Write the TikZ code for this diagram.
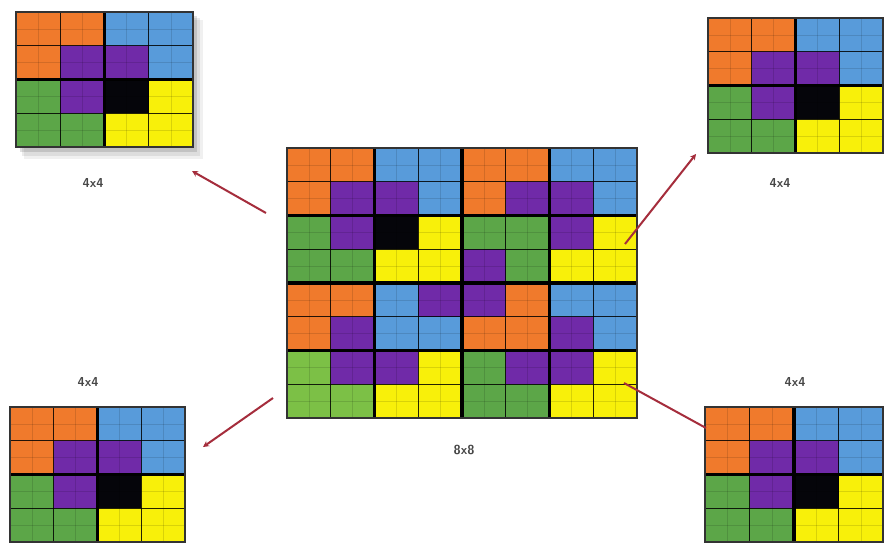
\documentclass[tikz,border=0pt]{standalone}
\usetikzlibrary{arrows.meta}
\definecolor{cO}{RGB}{240,122,44}
\definecolor{cB}{RGB}{88,155,218}
\definecolor{cP}{RGB}{112,42,168}
\definecolor{cG}{RGB}{92,166,72}
\definecolor{cL}{RGB}{124,192,70}
\definecolor{cY}{RGB}{248,240,10}
\definecolor{cK}{RGB}{5,5,10}
\definecolor{arr}{RGB}{165,45,60}
\tikzset{
  subline/.style={black,opacity=0.12,line width=0.5pt},
  cellline/.style={black,opacity=0.85,line width=1.3pt},
  blockline/.style={black,line width=3.6pt},
  outline/.style={black!80,line width=1.6pt},
  lbl/.style={font=\sffamily\bfseries\fontsize{13}{14}\selectfont,text=black!72},
  link/.style={arr,line width=2pt,-{Stealth[length=6pt,width=6pt]}},
}
% #1 x0, #2 y0, #3 cell width, #4 cell height, #5 rows of colours
\newcommand\mycells[5]{%
  \foreach \rowlist [count=\r from 0] in {#5} {
    \foreach \c [count=\k from 0] in \rowlist {
      \fill[\c] ({#1+\k*#3},{#2+\r*#4}) rectangle ++(#3,#4);
    }
  }
}
% #1 x0, #2 y0, #3 cw, #4 ch, #5 n (cells per side), #6 list of block boundaries
\newcommand\mylines[6]{%
  \foreach \i in {1,...,#5} {
    \draw[subline] ({#1+(\i-0.5)*#3},#2) -- ++(0,{#5*#4});
    \draw[subline] (#1,{#2+(\i-0.5)*#4}) -- ++({#5*#3},0);
  }
  \foreach \i in {1,...,#5} {
    \draw[cellline] ({#1+\i*#3},#2) -- ++(0,{#5*#4});
    \draw[cellline] (#1,{#2+\i*#4}) -- ++({#5*#3},0);
  }
  \foreach \i in {#6} {
    \draw[blockline] ({#1+\i*#3},#2) -- ++(0,{#5*#4});
    \draw[blockline] (#1,{#2+\i*#4}) -- ++({#5*#3},0);
  }
  \draw[outline] (#1,#2) rectangle ++({#5*#3},{#5*#4});
}
\begin{document}
\begin{tikzpicture}[x=1pt,y=-1pt]
\useasboundingbox (0,0) rectangle (885,546);
\fill[white] (0,0) rectangle (885,546);

% soft shadow of top-left grid
\fill[black,opacity=0.06] (24,20) rectangle (203,159);
\fill[black,opacity=0.08] (22,18) rectangle (200,156);
\fill[black,opacity=0.12] (20,16) rectangle (197,152);

% top-left grid
\mycells{16}{12}{44.25}{33.75}{{cO,cO,cB,cB},{cO,cP,cP,cB},{cG,cP,cK,cY},{cG,cG,cY,cY}}
\mylines{16}{12}{44.25}{33.75}{4}{2}

% top-right grid
\mycells{708}{18}{43.75}{33.75}{{cO,cO,cB,cB},{cO,cP,cP,cB},{cG,cP,cK,cY},{cG,cG,cY,cY}}
\mylines{708}{18}{43.75}{33.75}{4}{2}

% bottom-left grid
\mycells{10}{407}{43.75}{33.75}{{cO,cO,cB,cB},{cO,cP,cP,cB},{cG,cP,cK,cY},{cG,cG,cY,cY}}
\mylines{10}{407}{43.75}{33.75}{4}{2}

% bottom-right grid
\mycells{705}{407}{44.5}{33.75}{{cO,cO,cB,cB},{cO,cP,cP,cB},{cG,cP,cK,cY},{cG,cG,cY,cY}}
\mylines{705}{407}{44.5}{33.75}{4}{2}

% centre grid
\mycells{287}{148}{43.75}{33.75}{%
  {cO,cO,cB,cB,cO,cO,cB,cB},
  {cO,cP,cP,cB,cO,cP,cP,cB},
  {cG,cP,cK,cY,cG,cG,cP,cY},
  {cG,cG,cY,cY,cP,cG,cY,cY},
  {cO,cO,cB,cP,cP,cO,cB,cB},
  {cO,cP,cB,cB,cO,cO,cP,cB},
  {cL,cP,cP,cY,cG,cP,cP,cY},
  {cL,cL,cY,cY,cG,cG,cY,cY}}
\mylines{287}{148}{43.75}{33.75}{8}{2,4,6}

% labels
\node[lbl] (ltl) at (93,183) {4x4};
\node[lbl] (ltr) at (780,183) {4x4};
\node[lbl] (lbl) at (88,382) {4x4};
\node[lbl] (lbr) at (795,382) {4x4};
\node[lbl] (lc) at (464,450) {8x8};

% connector end points
\coordinate (a1) at (266,213); \coordinate (b1) at (192,171);
\coordinate (a2) at (625,244); \coordinate (b2) at (696,154);
\coordinate (a3) at (273,398); \coordinate (b3) at (203,447);
\coordinate (a4) at (624,383); \coordinate (b4) at (706,428);
\draw[link] (a1) -- (b1);
\draw[link] (a2) -- (b2);
\draw[link] (a3) -- (b3);
\draw[arr,line width=2pt] (a4) -- (b4);
\end{tikzpicture}
\end{document}
